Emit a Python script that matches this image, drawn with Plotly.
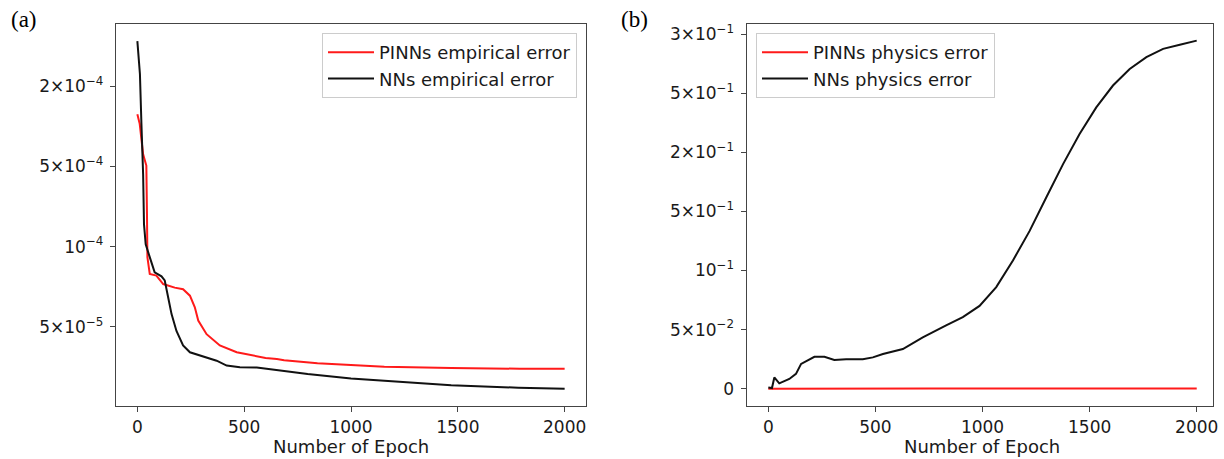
import plotly.graph_objects as go

# ---------------- data (y values are in the chart's own tick-position units;
# the printed tick labels of the original are non-monotonic, so each tick label
# is attached to an equally spaced position) ----------------
# Panel (a): empirical error
a_nn_epoch = [0, 8, 12, 19, 27, 31, 39, 58, 81, 113, 128, 144, 160, 183, 214, 246,
              308, 371, 418, 480, 559, 653, 765, 797, 1000, 1313, 1469, 1783, 2000]
a_nn_err = [4.56, 4.19, 4.15, 3.53, 2.90, 2.28, 2.03, 1.87, 1.68, 1.63, 1.58, 1.37,
            1.16, 0.95, 0.77, 0.685, 0.635, 0.58, 0.52, 0.50, 0.495, 0.465, 0.43,
            0.415, 0.36, 0.30, 0.274, 0.244, 0.232]

a_pinn_epoch = [0, 11, 27, 42, 45, 47, 58, 89, 121, 175, 214, 246, 269, 285, 324,
                386, 465, 531, 600, 653, 687, 843, 1000, 1156, 1469, 1780, 1790, 2000]
a_pinn_err = [3.65, 3.53, 3.15, 3.01, 2.40, 1.87, 1.66, 1.64, 1.535, 1.49, 1.47,
              1.39, 1.245, 1.08, 0.91, 0.77, 0.685, 0.65, 0.615, 0.60, 0.585, 0.548,
              0.525, 0.506, 0.49, 0.473, 0.48, 0.48]

a_tick_pos = [4, 3, 2, 1]
a_tick_text = ["2×10<sup>−4</sup>", "5×10<sup>−4</sup>", "10<sup>−4</sup>", "5×10<sup>−5</sup>"]

# Panel (b): physics error
b_nn_epoch = [0, 17, 28, 51, 98, 129, 153, 176, 215, 262, 308, 363, 441, 488, 535,
              628, 721, 830, 908, 986, 1064, 1142, 1220, 1298, 1376, 1453, 1531,
              1609, 1687, 1765, 1843, 1921, 2000]
b_nn_err = [0.02, 0.01, 0.19, 0.09, 0.164, 0.25, 0.42, 0.46, 0.54, 0.54, 0.486, 0.50,
            0.50, 0.53, 0.587, 0.67, 0.87, 1.07, 1.21, 1.40, 1.72, 2.17, 2.67, 3.24,
            3.80, 4.31, 4.76, 5.13, 5.41, 5.61, 5.75, 5.82, 5.89]

b_pinn_epoch = [0, 250, 500, 750, 1000, 1250, 1500, 1750, 2000]
b_pinn_err = [0.0, 0.005, 0.01, 0.005, 0.005, 0.005, 0.005, 0.005, 0.005]

b_tick_pos = [6, 5, 4, 3, 2, 1, 0]
b_tick_text = ["3×10<sup>−1</sup>", "5×10<sup>−1</sup>", "2×10<sup>−1</sup>",
               "5×10<sup>−1</sup>", "10<sup>−1</sup>", "5×10<sup>−2</sup>", "0"]

x_ticks = [0, 500, 1000, 1500, 2000]

# ---------------- figure ----------------
W, H = 1224, 459
FONT = "DejaVu Sans"
RED = "#ff1a1a"
BLACK = "#111111"
SPINE = "#444444"
TXT = "#1a1a1a"

fig = go.Figure()

fig.add_trace(go.Scatter(x=a_pinn_epoch, y=a_pinn_err, mode="lines",
                         name="PINNs empirical error", line=dict(color=RED, width=2),
                         xaxis="x", yaxis="y", legend="legend"))
fig.add_trace(go.Scatter(x=a_nn_epoch, y=a_nn_err, mode="lines",
                         name="NNs empirical error", line=dict(color=BLACK, width=2),
                         xaxis="x", yaxis="y", legend="legend"))
fig.add_trace(go.Scatter(x=b_pinn_epoch, y=b_pinn_err, mode="lines",
                         name="PINNs physics error", line=dict(color=RED, width=2),
                         xaxis="x2", yaxis="y2", legend="legend2"))
fig.add_trace(go.Scatter(x=b_nn_epoch, y=b_nn_err, mode="lines",
                         name="NNs physics error", line=dict(color=BLACK, width=2),
                         xaxis="x2", yaxis="y2", legend="legend2"))

def px_x(p):
    return p / W

def px_y(p):
    return 1 - p / H

axis_common = dict(showline=True, linecolor=SPINE, linewidth=1.3, mirror=True,
                   ticks="outside", ticklen=5, tickwidth=1.2, tickcolor=SPINE,
                   showgrid=False, zeroline=False, automargin=False,
                   tickfont=dict(family=FONT, size=17, color=TXT))

fig.update_layout(
    width=W, height=H,
    margin=dict(l=0, r=0, t=0, b=0),
    paper_bgcolor="white", plot_bgcolor="white",
    xaxis=dict(domain=[px_x(116), px_x(586)], range=[-100, 2100],
               tickvals=x_ticks, anchor="y", **axis_common),
    yaxis=dict(domain=[px_y(406), px_y(24)], range=[0.016, 4.773],
               tickvals=a_tick_pos, ticktext=a_tick_text, anchor="x",
               ticklabelstandoff=3, **axis_common),
    xaxis2=dict(domain=[px_x(746.7), px_x(1213)], range=[-101, 2076],
                tickvals=x_ticks, anchor="y2", **axis_common),
    yaxis2=dict(domain=[px_y(406), px_y(24)], range=[-0.293, 6.171],
                tickvals=b_tick_pos, ticktext=b_tick_text, anchor="x2",
                ticklabelstandoff=3, **axis_common),
    legend=dict(x=px_x(577), y=px_y(33), xanchor="right", yanchor="top",
                bgcolor="rgba(255,255,255,0.9)", bordercolor="#cccccc", borderwidth=1,
                font=dict(family=FONT, size=18, color=TXT),
                itemwidth=46, tracegroupgap=0),
    legend2=dict(x=px_x(756), y=px_y(33), xanchor="left", yanchor="top",
                 bgcolor="rgba(255,255,255,0.9)", bordercolor="#cccccc", borderwidth=1,
                 font=dict(family=FONT, size=18, color=TXT),
                 itemwidth=46, tracegroupgap=0),
    showlegend=True,
)

annotations = [
    dict(text="Number of Epoch", x=(px_x(116) + px_x(586)) / 2, y=px_y(446),
         xref="paper", yref="paper", showarrow=False, xanchor="center", yanchor="middle",
         font=dict(family=FONT, size=18, color=TXT)),
    dict(text="Number of Epoch", x=px_x(982), y=px_y(446),
         xref="paper", yref="paper", showarrow=False, xanchor="center", yanchor="middle",
         font=dict(family=FONT, size=18, color=TXT)),
    dict(text="(a)", x=px_x(9), y=px_y(19), xref="paper", yref="paper", showarrow=False,
         xanchor="left", yanchor="middle",
         font=dict(family="Liberation Serif", size=23, color="black")),
    dict(text="(b)", x=px_x(619), y=px_y(19), xref="paper", yref="paper", showarrow=False,
         xanchor="left", yanchor="middle",
         font=dict(family="Liberation Serif", size=23, color="black")),
]
fig.update_layout(annotations=annotations)

fig.write_html("out.html")
